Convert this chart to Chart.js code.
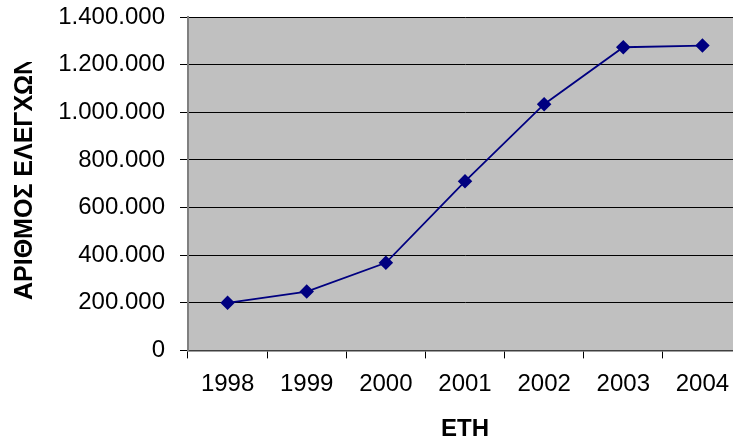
<!DOCTYPE html>
<html>
<head>
<meta charset="utf-8">
<script src="https://cdn.jsdelivr.net/npm/chart.js@4"></script>
<style>
  html, body { margin: 0; padding: 0; overflow: hidden; background: #fff; }
  canvas { display: block; }
</style>
</head>
<body>
<canvas id="chart" width="760" height="442"></canvas>
<script>
// data
const years = ['1998', '1999', '2000', '2001', '2002', '2003', '2004'];
const checks = [200000, 247000, 368000, 710000, 1034000, 1273000, 1280000];
const yTitle = 'ΑΡΙΘΜΟΣ ΕΛΕΓΧΩΝ';
const xTitle = 'ΕΤΗ';

const font = 'Liberation Sans, Arial, sans-serif';

// grey plot area
const plotBg = {
    id: 'plotBg',
    beforeDraw(chart) {
        const a = chart.chartArea;
        const c = chart.ctx;
        c.save();
        c.fillStyle = '#C0C0C0';
        c.fillRect(a.left, a.top, a.right - a.left, a.bottom - a.top);
        c.restore();
    }
};

// rotated y title, cut off at the top like the original
const sideTitle = {
    id: 'sideTitle',
    afterDraw(chart) {
        const c = chart.ctx;
        c.save();
        c.beginPath();
        c.rect(0, 62, 60, 380);
        c.clip();
        c.translate(25, 300);
        c.rotate(-Math.PI / 2);
        c.font = 'bold 25px ' + font;
        c.fillStyle = '#000';
        c.textAlign = 'left';
        c.textBaseline = 'middle';
        c.fillText(yTitle, 0, 0);
        c.restore();
    }
};

const ctx = document.getElementById('chart').getContext('2d');
new Chart(ctx, {
    type: 'line',
    data: {
        labels: years,
        datasets: [{
            data: checks,
            borderColor: '#000080',
            backgroundColor: '#000080',
            borderWidth: 1.8,
            pointStyle: 'rectRot',
            pointRadius: 6,
            pointHoverRadius: 6,
            tension: 0
        }]
    },
    options: {
        responsive: false,
        animation: false,
        layout: { padding: { left: 58, right: 18, top: 17, bottom: -2 } },
        plugins: {
            legend: { display: false },
            tooltip: { enabled: false }
        },
        scales: {
            x: {
                offset: true,
                grid: { offset: true, drawOnChartArea: false, tickLength: 8, color: '#000' },
                border: { color: '#404040', width: 1.5 },
                ticks: { color: '#000', font: { family: font, size: 24 }, padding: 12, maxRotation: 0 },
                title: {
                    display: true, text: xTitle, color: '#000',
                    font: { family: font, size: 24, weight: 'bold' },
                    padding: { top: 4, bottom: 0 }
                }
            },
            y: {
                min: 0,
                max: 1400000,
                afterFit(scale) {
                    scale.width = 130;
                    scale.paddingTop = 0;
                    scale.paddingBottom = 0;
                },
                ticks: {
                    stepSize: 200000,
                    color: '#000',
                    padding: 15,
                    font: { family: font, size: 24 },
                    callback: v => String(v).replace(/\B(?=(\d{3})+(?!\d))/g, '.')
                },
                grid: { color: '#000', lineWidth: 1, tickLength: 8 },
                border: { color: '#808080', width: 2 }
            }
        }
    },
    plugins: [plotBg, sideTitle]
});
</script>
</body>
</html>
